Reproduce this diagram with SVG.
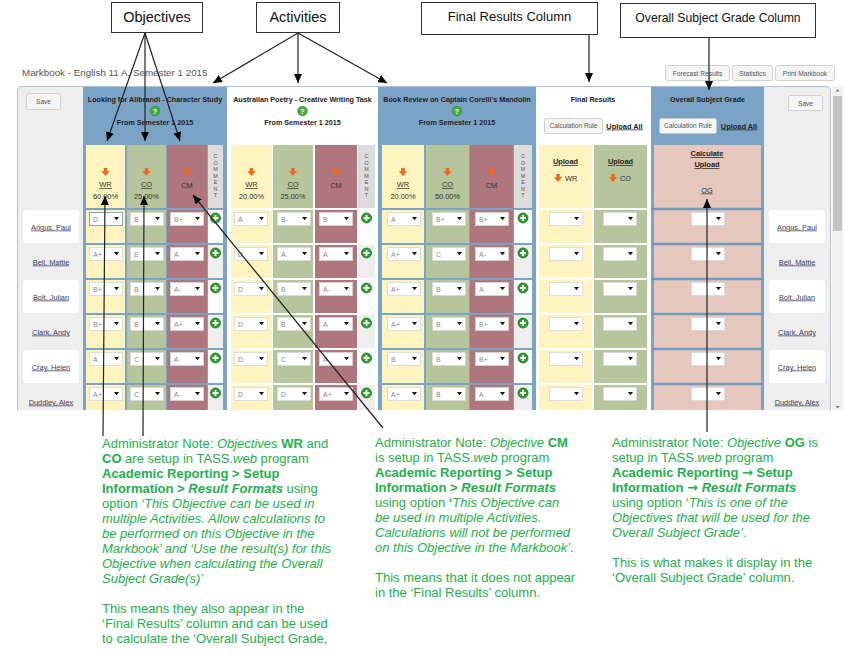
<svg xmlns="http://www.w3.org/2000/svg" width="846" height="657" viewBox="0 0 846 657">
<style>
text{font-family:"Liberation Sans",Arial,Helvetica,sans-serif}
.lbl{text-anchor:middle;fill:#111}
.h{font-size:7.2px;font-weight:bold;fill:#222;text-anchor:middle}
.c{font-size:7.4px;fill:#333;text-anchor:middle}
.cl{font-size:7.4px;fill:#333}
.u{text-decoration:underline}
.bo{font-weight:bold}
.gd{font-size:7px;fill:#8a8a8a}
.nm{font-size:7.4px;fill:#3b3b5c;text-anchor:middle;text-decoration:underline}
.bt{font-size:6.6px;fill:#555;text-anchor:middle}
.ua{font-size:7.4px;font-weight:bold;fill:#222;text-anchor:middle;text-decoration:underline}
.cm{font-size:5.4px;fill:#555;text-anchor:middle}
.note{font-size:13px;fill:#22b14c}
.i{font-style:italic}
.b{font-weight:bold}
.arr{font-family:"DejaVu Sans",sans-serif;font-weight:bold}
.Y{fill:#fdf4bf}.G{fill:#b6c59b}.R{fill:#b0767d}.P{fill:#e6c7bd}.BL{fill:#7aa3c6}.W{fill:#fff}.E{fill:#eee}.CH{fill:#dcdcdc}
.box{fill:#fff;stroke:#333;stroke-width:1}
.btn{fill:#f5f5f5;stroke:#c8c8c8;stroke-width:0.8}
.con{stroke:#222;stroke-width:1.2;fill:none;marker-end:url(#ah)}
.sepb{stroke:#7aa3c6;stroke-width:2}
.sepw{stroke:#fff;stroke-width:2}
.sepo{stroke:#6f9bc3;stroke-width:2.5}
</style>
<defs>
<marker id="ah" markerUnits="userSpaceOnUse" markerWidth="9" markerHeight="8" refX="9" refY="4" orient="auto"><path d="M0,0 L9,4 L0,8 z" fill="#000"/></marker>
<g id="dd"><rect x="0.5" y="0.5" width="33" height="13" fill="#fff" stroke="#d8d8d8" stroke-width="0.8"/><path d="M25,5 h5 l-2.5,3.2 z" fill="#111"/></g>
<g id="pl"><circle r="5" fill="#2c9f2c" stroke="#17721a" stroke-width="0.8"/><path d="M-3,0 H3 M0,-3 V3" stroke="#fff" stroke-width="1.8"/></g>
<g id="oa"><path d="M-1.8,-4 h3.6 v3.3 h2.5 l-4.3,4.7 l-4.3,-4.7 h2.5 z" fill="#f26a21"/></g>
<g id="hp"><circle r="4.8" fill="#4aac3f" stroke="#2b8a2b" stroke-width="0.6"/></g>
</defs>
<rect width="846" height="657" fill="#fff"/>

<g id="label-objectives"><rect class="box" x="111.5" y="2.5" width="91" height="30"/><text class="lbl" x="157" y="21.5" font-size="14.5">Objectives</text></g>
<g id="label-activities"><rect class="box" x="256.5" y="2.5" width="83" height="30"/><text class="lbl" x="298" y="21.5" font-size="14.5">Activities</text></g>
<g id="label-final-results"><rect class="box" x="421.5" y="2.5" width="176" height="32"/><text class="lbl" x="509.5" y="21" font-size="13">Final Results Column</text></g>
<g id="label-overall-grade"><rect class="box" x="620.5" y="3.5" width="195" height="34"/><text class="lbl" x="718" y="21.5" font-size="12.2">Overall Subject Grade Column</text></g>

<g id="title"><text x="22" y="75.5" font-size="9.8" fill="#555">Markbook - English 11 A, Semester 1 2015</text></g>
<g id="btn-forecast"><rect class="btn" x="665.5" y="65.5" width="64" height="15" rx="2"/><text class="bt" x="697.5" y="75.5">Forecast Results</text></g>
<g id="btn-statistics"><rect class="btn" x="732.5" y="65.5" width="40" height="15" rx="2"/><text class="bt" x="752.5" y="75.5">Statistics</text></g>
<g id="btn-print"><rect class="btn" x="775.5" y="65.5" width="59" height="15" rx="2"/><text class="bt" x="805" y="75.5">Print Markbook</text></g>

<g id="markbook-panel">
<path d="M17.5,410 V91 Q17.5,86.5 22,86.5 H826 Q830.5,86.5 830.5,91 V410" fill="#eee" stroke="#a9c5de"/>
<rect x="832" y="86" width="11" height="324" fill="#f1f1f1"/><rect x="833" y="96" width="9" height="135" fill="#c3c3c3"/>
<path d="M835.5,91.5 h4 l-2,-2.5z" fill="#777"/><path d="M835.5,406 h4 l-2,2.5z" fill="#777"/>
</g>

<g id="names-left">
<rect class="btn" x="26.5" y="93.5" width="34" height="16" rx="2"/><text class="bt" x="43.5" y="104">Save</text>
<rect class="W" x="23" y="210" width="56" height="33" rx="3"/>
<rect class="W" x="23" y="280" width="56" height="33" rx="3"/>
<rect class="W" x="23" y="350" width="56" height="33" rx="3"/>
<text class="nm" x="51" y="229.5">Angus, Paul</text>
<text class="nm" x="51" y="264.5">Bell, Mattie</text>
<text class="nm" x="51" y="299.5">Bolt, Julian</text>
<text class="nm" x="51" y="334.5">Clark, Andy</text>
<text class="nm" x="51" y="369.5">Cray, Helen</text>
<text class="nm" x="51" y="404.5">Duddley, Alex</text>
</g>

<g id="activity-1">
<rect class="BL" x="83" y="87" width="144" height="323"/>
<text class="h" x="155" y="101.5">Looking for Alibrandi - Character Study</text>
<use href="#hp" x="155" y="111"/><text x="155" y="113.6" font-size="7" font-weight="bold" fill="#fff" text-anchor="middle">?</text>
<text class="h" x="155" y="124.5">From Semester 1 2015</text>
<rect class="Y" x="86" y="145" width="39" height="265"/>
<rect class="G" x="127" y="145" width="39" height="265"/>
<rect class="R" x="167" y="145" width="40" height="265"/>
<rect class="E" x="208" y="145" width="15" height="265"/>
<rect class="CH" x="208" y="145" width="15" height="63"/>
<rect class="W" x="208" y="210" width="15" height="33"/>
<rect class="W" x="208" y="280" width="15" height="33"/>
<rect class="W" x="208" y="350" width="15" height="33"/>
<path class="sepb" d="M83,209H227M83,244H227M83,279H227M83,314H227M83,349H227M83,384H227"/>
<use href="#oa" x="105.5" y="172"/><text class="c u" x="105.5" y="187">WR</text><text class="c" x="105.5" y="199">60.00%</text>
<use href="#oa" x="146.5" y="172"/><text class="c u" x="146.5" y="187">CO</text><text class="c" x="146.5" y="199">25.00%</text>
<use href="#oa" x="187" y="172"/><text class="c" x="187" y="188">CM</text>
<text class="cm"><tspan x="215.5" y="158">C</tspan><tspan x="215.5" y="164.5">O</tspan><tspan x="215.5" y="171">M</tspan><tspan x="215.5" y="177.5">M</tspan><tspan x="215.5" y="184">E</tspan><tspan x="215.5" y="190.5">N</tspan><tspan x="215.5" y="197">T</tspan></text>
<use href="#dd" x="89" y="212"/><use href="#dd" x="130" y="212"/><use href="#dd" x="170" y="212"/>
<use href="#dd" x="89" y="247"/><use href="#dd" x="130" y="247"/><use href="#dd" x="170" y="247"/>
<use href="#dd" x="89" y="282"/><use href="#dd" x="130" y="282"/><use href="#dd" x="170" y="282"/>
<use href="#dd" x="89" y="317"/><use href="#dd" x="130" y="317"/><use href="#dd" x="170" y="317"/>
<use href="#dd" x="89" y="352"/><use href="#dd" x="130" y="352"/><use href="#dd" x="170" y="352"/>
<use href="#dd" x="89" y="387"/><use href="#dd" x="130" y="387"/><use href="#dd" x="170" y="387"/>
<rect x="89.5" y="212.5" width="33" height="13" fill="none" stroke="#7d9fd0" stroke-width="0.9"/>
<text class="gd" x="93" y="221.5">D</text><text class="gd" x="134" y="221.5">B</text><text class="gd" x="174" y="221.5">B+</text>
<text class="gd" x="93" y="256.5">A+</text><text class="gd" x="134" y="256.5">E</text><text class="gd" x="174" y="256.5">A</text>
<text class="gd" x="93" y="291.5">B+</text><text class="gd" x="134" y="291.5">B</text><text class="gd" x="174" y="291.5">A-</text>
<text class="gd" x="93" y="326.5">B+</text><text class="gd" x="134" y="326.5">B</text><text class="gd" x="174" y="326.5">A+</text>
<text class="gd" x="93" y="361.5">A</text><text class="gd" x="134" y="361.5">C</text><text class="gd" x="174" y="361.5">A</text>
<text class="gd" x="93" y="396.5">A+</text><text class="gd" x="134" y="396.5">C</text><text class="gd" x="174" y="396.5">A-</text>
<use href="#pl" x="215.5" y="218"/><use href="#pl" x="215.5" y="253"/><use href="#pl" x="215.5" y="288"/><use href="#pl" x="215.5" y="323"/><use href="#pl" x="215.5" y="358"/><use href="#pl" x="215.5" y="393"/>
</g>

<g id="activity-2">
<rect class="W" x="227" y="87" width="151" height="323"/>
<text class="h" x="302.5" y="101.5">Australian Poetry - Creative Writing Task</text>
<use href="#hp" x="302.5" y="111"/><text x="302.5" y="113.6" font-size="7" font-weight="bold" fill="#fff" text-anchor="middle">?</text>
<text class="h" x="302.5" y="124.5">From Semester 1 2015</text>
<rect class="Y" x="231" y="145" width="41" height="265"/>
<rect class="G" x="273" y="145" width="40" height="265"/>
<rect class="R" x="315" y="145" width="42" height="265"/>
<rect class="E" x="358" y="145" width="17" height="265"/>
<rect class="CH" x="358" y="145" width="17" height="63"/>
<rect class="W" x="358" y="210" width="17" height="33"/>
<rect class="W" x="358" y="280" width="17" height="33"/>
<rect class="W" x="358" y="350" width="17" height="33"/>
<path class="sepw" d="M227,209H378M227,244H378M227,279H378M227,314H378M227,349H378M227,384H378"/>
<use href="#oa" x="251.5" y="172"/><text class="c u" x="251.5" y="187">WR</text><text class="c" x="251.5" y="199">20.00%</text>
<use href="#oa" x="293" y="172"/><text class="c u" x="293" y="187">CO</text><text class="c" x="293" y="199">25.00%</text>
<use href="#oa" x="336" y="172"/><text class="c" x="336" y="188">CM</text>
<text class="cm"><tspan x="366.5" y="158">C</tspan><tspan x="366.5" y="164.5">O</tspan><tspan x="366.5" y="171">M</tspan><tspan x="366.5" y="177.5">M</tspan><tspan x="366.5" y="184">E</tspan><tspan x="366.5" y="190.5">N</tspan><tspan x="366.5" y="197">T</tspan></text>
<use href="#dd" x="234" y="212"/><use href="#dd" x="277" y="212"/><use href="#dd" x="319" y="212"/>
<use href="#dd" x="234" y="247"/><use href="#dd" x="277" y="247"/><use href="#dd" x="319" y="247"/>
<use href="#dd" x="234" y="282"/><use href="#dd" x="277" y="282"/><use href="#dd" x="319" y="282"/>
<use href="#dd" x="234" y="317"/><use href="#dd" x="277" y="317"/><use href="#dd" x="319" y="317"/>
<use href="#dd" x="234" y="352"/><use href="#dd" x="277" y="352"/><use href="#dd" x="319" y="352"/>
<use href="#dd" x="234" y="387"/><use href="#dd" x="277" y="387"/><use href="#dd" x="319" y="387"/>
<text class="gd" x="238" y="221.5">A</text><text class="gd" x="281" y="221.5">B-</text><text class="gd" x="323" y="221.5">B</text>
<text class="gd" x="238" y="256.5">D</text><text class="gd" x="281" y="256.5">A</text><text class="gd" x="323" y="256.5">A</text>
<text class="gd" x="238" y="291.5">D</text><text class="gd" x="281" y="291.5">B</text><text class="gd" x="323" y="291.5">A-</text>
<text class="gd" x="238" y="326.5">D</text><text class="gd" x="281" y="326.5">B</text><text class="gd" x="323" y="326.5">A</text>
<text class="gd" x="238" y="361.5">D</text><text class="gd" x="281" y="361.5">C</text><text class="gd" x="323" y="361.5">A</text>
<text class="gd" x="238" y="396.5">D</text><text class="gd" x="281" y="396.5">D</text><text class="gd" x="323" y="396.5">A+</text>
<use href="#pl" x="366.5" y="218"/><use href="#pl" x="366.5" y="253"/><use href="#pl" x="366.5" y="288"/><use href="#pl" x="366.5" y="323"/><use href="#pl" x="366.5" y="358"/><use href="#pl" x="366.5" y="393"/>
</g>

<g id="activity-3">
<rect class="BL" x="378" y="87" width="158" height="323"/>
<text class="h" x="457" y="101.5">Book Review on Captain Corelli's Mandolin</text>
<use href="#hp" x="457" y="111"/><text x="457" y="113.6" font-size="7" font-weight="bold" fill="#fff" text-anchor="middle">?</text>
<text class="h" x="457" y="124.5">From Semester 1 2015</text>
<rect class="Y" x="382" y="145" width="42" height="265"/>
<rect class="G" x="426" y="145" width="43" height="265"/>
<rect class="R" x="470" y="145" width="43" height="265"/>
<rect class="E" x="514" y="145" width="18" height="265"/>
<rect class="CH" x="514" y="145" width="18" height="63"/>
<rect class="W" x="514" y="210" width="18" height="33"/>
<rect class="W" x="514" y="280" width="18" height="33"/>
<rect class="W" x="514" y="350" width="18" height="33"/>
<path class="sepb" d="M378,209H536M378,244H536M378,279H536M378,314H536M378,349H536M378,384H536"/>
<use href="#oa" x="403" y="172"/><text class="c u" x="403" y="187">WR</text><text class="c" x="403" y="199">20.00%</text>
<use href="#oa" x="447.5" y="172"/><text class="c u" x="447.5" y="187">CO</text><text class="c" x="447.5" y="199">50.00%</text>
<use href="#oa" x="491.5" y="172"/><text class="c" x="491.5" y="188">CM</text>
<text class="cm"><tspan x="523" y="158">C</tspan><tspan x="523" y="164.5">O</tspan><tspan x="523" y="171">M</tspan><tspan x="523" y="177.5">M</tspan><tspan x="523" y="184">E</tspan><tspan x="523" y="190.5">N</tspan><tspan x="523" y="197">T</tspan></text>
<use href="#dd" x="387" y="212"/><use href="#dd" x="432" y="212"/><use href="#dd" x="475" y="212"/>
<use href="#dd" x="387" y="247"/><use href="#dd" x="432" y="247"/><use href="#dd" x="475" y="247"/>
<use href="#dd" x="387" y="282"/><use href="#dd" x="432" y="282"/><use href="#dd" x="475" y="282"/>
<use href="#dd" x="387" y="317"/><use href="#dd" x="432" y="317"/><use href="#dd" x="475" y="317"/>
<use href="#dd" x="387" y="352"/><use href="#dd" x="432" y="352"/><use href="#dd" x="475" y="352"/>
<use href="#dd" x="387" y="387"/><use href="#dd" x="432" y="387"/><use href="#dd" x="475" y="387"/>
<text class="gd" x="391" y="221.5">A</text><text class="gd" x="436" y="221.5">B+</text><text class="gd" x="479" y="221.5">B+</text>
<text class="gd" x="391" y="256.5">A+</text><text class="gd" x="436" y="256.5">C</text><text class="gd" x="479" y="256.5">A-</text>
<text class="gd" x="391" y="291.5">A+</text><text class="gd" x="436" y="291.5">B</text><text class="gd" x="479" y="291.5">A</text>
<text class="gd" x="391" y="326.5">A+</text><text class="gd" x="436" y="326.5">B</text><text class="gd" x="479" y="326.5">B+</text>
<text class="gd" x="391" y="361.5">B</text><text class="gd" x="436" y="361.5">B</text><text class="gd" x="479" y="361.5">B+</text>
<text class="gd" x="391" y="396.5">A+</text><text class="gd" x="436" y="396.5">B</text><text class="gd" x="479" y="396.5">A</text>
<use href="#pl" x="523" y="218"/><use href="#pl" x="523" y="253"/><use href="#pl" x="523" y="288"/><use href="#pl" x="523" y="323"/><use href="#pl" x="523" y="358"/><use href="#pl" x="523" y="393"/>
</g>

<g id="final-results">
<rect class="W" x="536" y="87" width="115" height="323"/>
<text class="h" x="593" y="101.5">Final Results</text>
<rect class="btn" x="544.5" y="118.5" width="58" height="15" rx="2"/><text class="bt" x="573.5" y="128.3">Calculation Rule</text>
<text class="ua" x="624.5" y="128.5">Upload All</text>
<rect class="Y" x="539" y="145" width="53" height="265"/>
<rect class="G" x="594" y="145" width="53" height="265"/>
<path class="sepw" d="M536,209H651M536,244H651M536,279H651M536,314H651M536,349H651M536,384H651"/>
<text class="ua" x="565.5" y="164">Upload</text><use href="#oa" x="558" y="178"/><text class="cl" x="565" y="181">WR</text>
<text class="ua" x="620.5" y="164">Upload</text><use href="#oa" x="613" y="178"/><text class="cl" x="620" y="181">CO</text>
<use href="#dd" x="549" y="212"/><use href="#dd" x="603" y="212"/>
<use href="#dd" x="549" y="247"/><use href="#dd" x="603" y="247"/>
<use href="#dd" x="549" y="282"/><use href="#dd" x="603" y="282"/>
<use href="#dd" x="549" y="317"/><use href="#dd" x="603" y="317"/>
<use href="#dd" x="549" y="352"/><use href="#dd" x="603" y="352"/>
<use href="#dd" x="549" y="387"/><use href="#dd" x="603" y="387"/>
</g>

<g id="overall-subject-grade">
<rect class="BL" x="651" y="87" width="113" height="323"/>
<text class="h" x="707.5" y="101.5">Overall Subject Grade</text>
<rect class="btn" x="659.5" y="118.5" width="57" height="15" rx="2" fill="#fff"/><text class="bt" x="688" y="128.3">Calculation Rule</text>
<text class="ua" x="739" y="128.5">Upload All</text>
<rect class="P" x="654" y="145" width="107" height="265"/>
<path class="sepo" d="M651,209H764M651,244H764M651,279H764M651,314H764M651,349H764M651,384H764"/>
<text class="ua" x="707" y="156">Calculate</text>
<text class="ua" x="707" y="167">Upload</text>
<text class="c u" x="707" y="192.5">OG</text>
<use href="#dd" x="691" y="212"/><use href="#dd" x="691" y="247"/><use href="#dd" x="691" y="282"/><use href="#dd" x="691" y="317"/><use href="#dd" x="691" y="352"/><use href="#dd" x="691" y="387"/>
</g>

<g id="names-right">
<rect class="btn" x="788.5" y="95.5" width="34" height="15" rx="2"/><text class="bt" x="805.5" y="105.5">Save</text>
<rect class="W" x="769" y="210" width="56" height="33" rx="3"/>
<rect class="W" x="769" y="280" width="56" height="33" rx="3"/>
<rect class="W" x="769" y="350" width="56" height="33" rx="3"/>
<text class="nm" x="797" y="229.5">Angus, Paul</text>
<text class="nm" x="797" y="264.5">Bell, Mattie</text>
<text class="nm" x="797" y="299.5">Bolt, Julian</text>
<text class="nm" x="797" y="334.5">Clark, Andy</text>
<text class="nm" x="797" y="369.5">Cray, Helen</text>
<text class="nm" x="797" y="404.5">Duddley, Alex</text>
</g>

<g id="connectors">
<line class="con" x1="145" y1="33" x2="107" y2="141"/>
<line class="con" x1="145" y1="33" x2="145" y2="141"/>
<line class="con" x1="145" y1="33" x2="180" y2="141"/>
<line class="con" x1="298" y1="33" x2="213" y2="83"/>
<line class="con" x1="298" y1="33" x2="298" y2="83"/>
<line class="con" x1="298" y1="33" x2="387" y2="83"/>
<line class="con" x1="589" y1="35" x2="589" y2="82"/>
<line class="con" x1="709" y1="38" x2="709" y2="90"/>
<line class="con" x1="103" y1="436" x2="105" y2="196"/>
<line class="con" x1="143" y1="436" x2="144" y2="196"/>
<line class="con" x1="383" y1="428" x2="193" y2="195"/>
<line class="con" x1="707" y1="432" x2="707" y2="199"/>
</g>

<g id="note-wr-co">
<text class="note" x="102" y="448">Administrator Note: <tspan class="i">Objectives</tspan> <tspan class="b">WR</tspan> and</text>
<text class="note" x="102" y="463"><tspan class="b">CO</tspan> are setup in TASS.<tspan class="i">web</tspan> program</text>
<text class="note b" x="102" y="478">Academic Reporting &gt; Setup</text>
<text class="note" x="102" y="493"><tspan class="b">Information &gt;</tspan> <tspan class="b i">Result Formats</tspan> using</text>
<text class="note" x="102" y="508">option <tspan class="i">‘This Objective can be used in</tspan></text>
<text class="note i" x="102" y="523">multiple Activities. Allow calculations to</text>
<text class="note i" x="102" y="538">be performed on this Objective in the</text>
<text class="note i" x="102" y="553">Markbook’ and ‘Use the result(s) for this</text>
<text class="note i" x="102" y="568">Objective when calculating the Overall</text>
<text class="note i" x="102" y="583">Subject Grade(s)’</text>
<text class="note" x="102" y="613">This means they also appear in the</text>
<text class="note" x="102" y="628">‘Final Results’ column and can be used</text>
<text class="note" x="102" y="643">to calculate the ‘Overall Subject Grade,</text>
</g>

<g id="note-cm">
<text class="note" x="375" y="447">Administrator Note: <tspan class="i">Objective</tspan> <tspan class="b">CM</tspan></text>
<text class="note" x="375" y="462">is setup in TASS.<tspan class="i">web</tspan> program</text>
<text class="note b" x="375" y="477">Academic Reporting &gt; Setup</text>
<text class="note" x="375" y="492"><tspan class="b">Information &gt;</tspan> <tspan class="b i">Result Formats</tspan></text>
<text class="note" x="375" y="507">using option <tspan class="b">‘</tspan><tspan class="i">This Objective can</tspan></text>
<text class="note i" x="375" y="522">be used in multiple Activities.</text>
<text class="note i" x="375" y="537">Calculations will not be performed</text>
<text class="note" x="375" y="552"><tspan class="i">on this Objective in the Markbook’</tspan>.</text>
<text class="note" x="375" y="582">This means that it does not appear</text>
<text class="note" x="375" y="597">in the ‘Final Results’ column.</text>
</g>

<g id="note-og">
<text class="note" x="612" y="447">Administrator Note: <tspan class="i">Objective</tspan> <tspan class="b">OG</tspan> is</text>
<text class="note" x="612" y="462">setup in TASS.<tspan class="i">web</tspan> program</text>
<text class="note b" x="612" y="477">Academic Reporting <tspan class="arr">→</tspan> Setup</text>
<text class="note" x="612" y="492"><tspan class="b">Information <tspan class="arr">→</tspan></tspan> <tspan class="b i">Result Formats</tspan></text>
<text class="note" x="612" y="507">using option ‘<tspan class="i">This is one of the</tspan></text>
<text class="note i" x="612" y="522">Objectives that will be used for the</text>
<text class="note" x="612" y="537"><tspan class="i">Overall Subject Grade’</tspan>.</text>
<text class="note" x="612" y="567">This is what makes it display in the</text>
<text class="note" x="612" y="582">‘Overall Subject Grade’ column.</text>
</g>
</svg>
